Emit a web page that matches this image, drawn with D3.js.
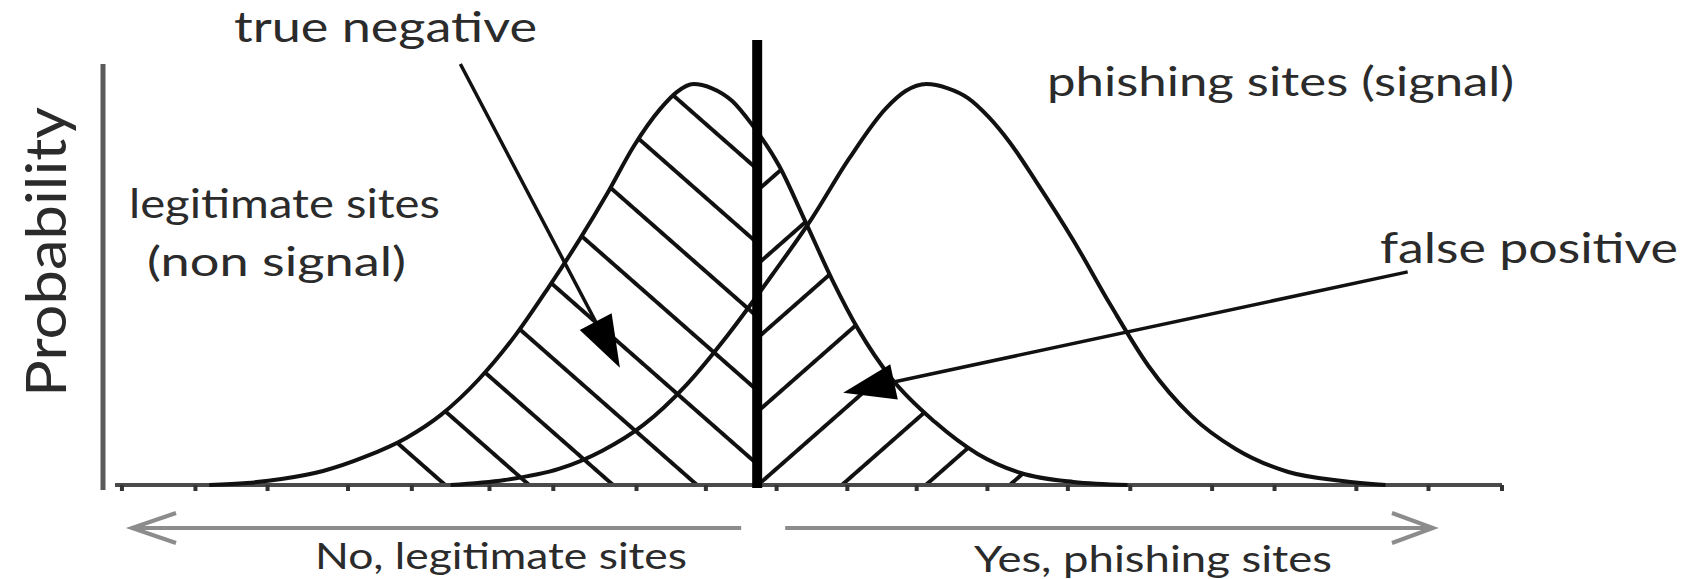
<!DOCTYPE html>
<html><head><meta charset="utf-8">
<script src="https://cdn.jsdelivr.net/npm/d3@7"></script>
<style>html,body{margin:0;padding:0;background:#fff;} svg{display:block;}</style>
</head><body>
<svg id="chart" width="1684" height="579"></svg>
<script>
// ---- data (x: decision variable units 0..100, y: probability) ----
const legitCurve = [[6.8,0],[9.5,0.002],[12,0.006],[15,0.014],[18,0.028],[21,0.047],[23.5,0.070],[26.2,0.105],[28.9,0.150],[31.2,0.196],[33.5,0.245],[35.5,0.291],[37.4,0.338],[39.3,0.375],[40.5,0.392],[41.7,0.400],[43,0.396],[44.5,0.383],[45.9,0.360],[47.9,0.318],[49.8,0.262],[51.7,0.205],[53.6,0.155],[56,0.106],[59.1,0.063],[62.2,0.031],[65.3,0.012],[69.1,0.003],[73,0]];
const phishCurve = [[24.2,0],[28.1,0.005],[32,0.016],[35.1,0.034],[38.1,0.060],[41.2,0.100],[44.2,0.150],[47.4,0.210],[50.2,0.265],[52.9,0.325],[55.6,0.376],[57,0.393],[58.5,0.400],[60,0.396],[61.5,0.386],[63,0.367],[64.5,0.342],[66.4,0.303],[69.1,0.244],[71.8,0.179],[74.5,0.119],[77.6,0.069],[80.8,0.036],[84.6,0.013],[88.5,0.004],[91.6,0]];
const xTicks = [0.5,5.8,11,16.8,21.4,27,31.6,37.6,42.6,47.7,52.8,57.8,62.9,68.7,73.2,79.1,83.6,89.5,94.7,100];
const threshold = 46.3;
const thresholdTop = 0.444;
const hatchStart = 20;
const arrows = [
  {name:"true negative", from:[24.9,0.42], to:[36.4,0.117]},
  {name:"false positive", from:[93.2,0.2126], to:[52.5,0.092]}
];
const labels = [
  {text:"true negative", x:234, y:42, size:42, len:303},
  {text:"phishing sites (signal)", x:1047, y:96, size:40, len:467},
  {text:"legitimate sites", x:129, y:218, size:40, len:311},
  {text:"(non signal)", x:147, y:276, size:40, len:259},
  {text:"false positive", x:1380, y:263, size:42, len:298},
  {text:"No, legitimate sites", x:315, y:569, size:36, len:372},
  {text:"Yes, phishing sites", x:974, y:572, size:36, len:358}
];
const yLabel = "Probability";

// ---- drawing ----
const W = 1684, H = 579;
const svg = d3.select('#chart');
const x = d3.scaleLinear().domain([0,100]).range([115,1502]);
const y = d3.scaleLinear().domain([0,0.42]).range([485,64]);

const defs = svg.append('defs');
function hatch(id, angle, tx) {
  const s = 55.4;
  const p = defs.append('pattern').attr('id', id)
    .attr('patternUnits','userSpaceOnUse').attr('width', s).attr('height', s)
    .attr('patternTransform', `translate(${tx},0) rotate(${angle})`);
  p.append('line').attr('x1', s/2).attr('x2', s/2).attr('y1', -2).attr('y2', s+2)
    .attr('stroke', '#111').attr('stroke-width', 4);
}
hatch('hatchL', -48.7, 103);
hatch('hatchR', 48.7, 1352);

const area = d3.area().x(d=>x(d[0])).y0(y(0)).y1(d=>y(d[1])).curve(d3.curveMonotoneX);
defs.append('clipPath').attr('id','legitClip').append('path').attr('d', area(legitCurve));

const hg = svg.append('g').attr('clip-path','url(#legitClip)');
hg.append('rect').attr('x',x(hatchStart)).attr('y',0).attr('width',x(threshold)-x(hatchStart)).attr('height',y(0)).attr('fill','url(#hatchL)');
hg.append('rect').attr('x',x(threshold)).attr('y',0).attr('width',W-x(threshold)).attr('height',y(0)).attr('fill','url(#hatchR)');

// baseline and ticks
svg.append('line').attr('x1',x(0)).attr('x2',x(100)).attr('y1',y(0)).attr('y2',y(0))
  .attr('stroke','#4a4a4a').attr('stroke-width',4);
svg.selectAll('rect.tick').data(xTicks).join('rect').attr('class','tick')
  .attr('x',d=>x(d)-2).attr('y',y(0)).attr('width',4).attr('height',6).attr('fill','#333');

// y axis
svg.append('line').attr('x1',x(0)-12).attr('x2',x(0)-12).attr('y1',y(0.42)).attr('y2',y(0)+5)
  .attr('stroke','#5a5a5a').attr('stroke-width',5);

// curves
const line = d3.line().x(d=>x(d[0])).y(d=>y(d[1])).curve(d3.curveMonotoneX);
[legitCurve, phishCurve].forEach(c=>{
  svg.append('path').attr('d', line(c)).attr('fill','none').attr('stroke','#111').attr('stroke-width',4);
});

// threshold
svg.append('line').attr('x1',x(threshold)).attr('x2',x(threshold)).attr('y1',y(0)+3).attr('y2',y(thresholdTop))
  .attr('stroke','#000').attr('stroke-width',10);

// annotation arrows
arrows.forEach(a=>{
  const x1=x(a.from[0]), y1=y(a.from[1]), x2=x(a.to[0]), y2=y(a.to[1]);
  const dx=x2-x1, dy=y2-y1, L=Math.hypot(dx,dy), ux=dx/L, uy=dy/L;
  const hl=52, hw=18;
  const bx=x2-ux*hl, by=y2-uy*hl;
  svg.append('line').attr('x1',x1).attr('y1',y1).attr('x2',bx+ux*4).attr('y2',by+uy*4)
    .attr('stroke','#111').attr('stroke-width',3.5);
  svg.append('polygon').attr('points',[[x2,y2],[bx-uy*hw,by+ux*hw],[bx+uy*hw,by-ux*hw]].map(p=>p.join(',')).join(' '))
    .attr('fill','#000');
});

// gray direction arrows
const gy = 528, gcol = '#8c8c8c';
svg.append('line').attr('x1',x(threshold)-16).attr('x2',131).attr('y1',gy).attr('y2',gy).attr('stroke',gcol).attr('stroke-width',4);
svg.append('polyline').attr('points',`176,513 132,${gy} 176,543`).attr('fill','none').attr('stroke',gcol).attr('stroke-width',4);
svg.append('line').attr('x1',x(threshold)+28).attr('x2',1432).attr('y1',gy).attr('y2',gy).attr('stroke',gcol).attr('stroke-width',4);
svg.append('polyline').attr('points',`1392,513 1433,${gy} 1392,543`).attr('fill','none').attr('stroke',gcol).attr('stroke-width',4);

// labels
svg.selectAll('text.lbl').data(labels).join('text').attr('class','lbl')
  .attr('x',d=>d.x).attr('y',d=>d.y).attr('font-size',d=>d.size)
  .attr('textLength',d=>d.len).attr('lengthAdjust','spacingAndGlyphs')
  .attr('font-family','Lato, "Open Sans", sans-serif').attr('fill','#2b2b2b')
  .text(d=>d.text);
svg.append('text').attr('transform','translate(66,252) rotate(-90)').attr('text-anchor','middle')
  .attr('font-size',56).attr('font-family','Lato, "Open Sans", sans-serif').attr('fill','#2b2b2b')
  .attr('textLength',290).attr('lengthAdjust','spacingAndGlyphs').text(yLabel);
</script>
</body></html>
